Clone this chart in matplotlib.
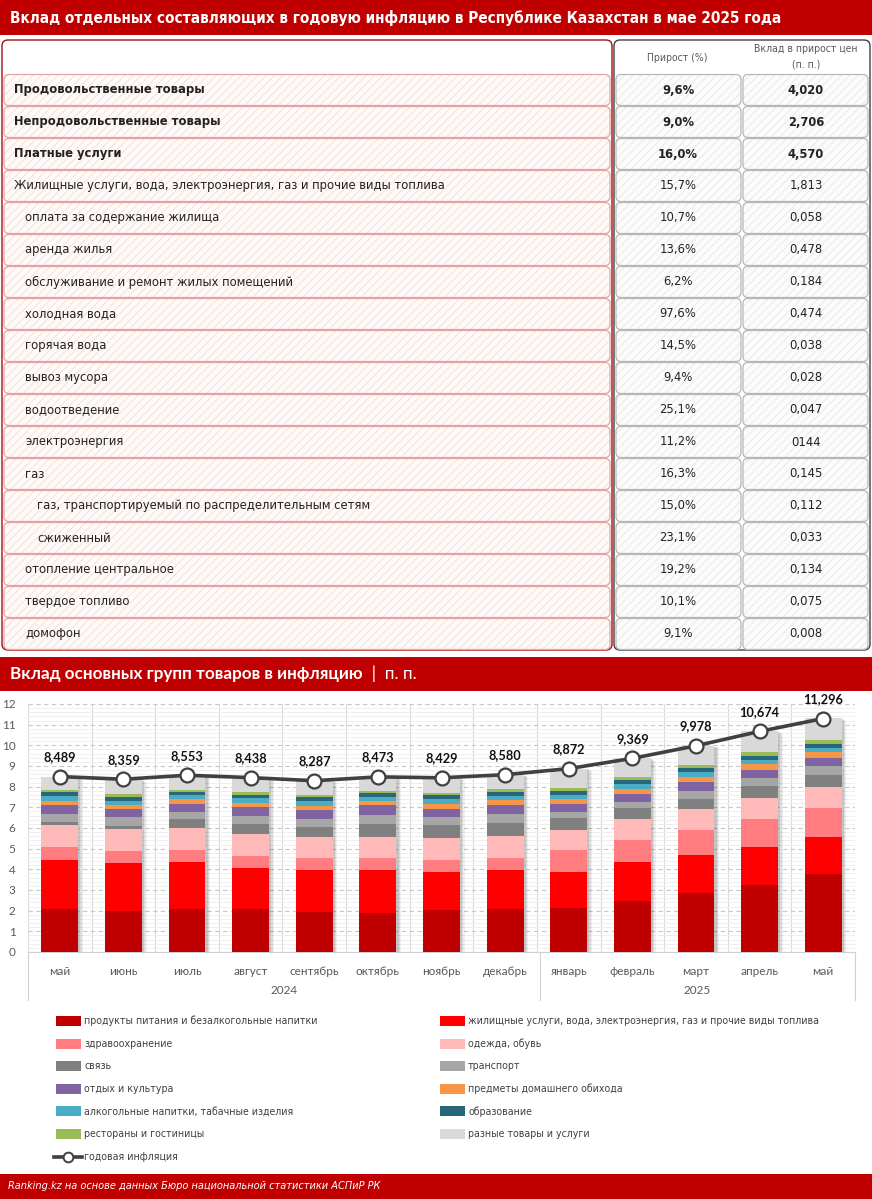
import matplotlib
matplotlib.use("Agg")
import matplotlib.pyplot as plt
from matplotlib.patches import FancyBboxPatch, Rectangle
from matplotlib.lines import Line2D

plt.rcParams['hatch.linewidth'] = 0.6

# --- данные таблицы ---
row_labels = [
    "Продовольственные товары",
    "Непродовольственные товары",
    "Платные услуги",
    "Жилищные услуги, вода, электроэнергия, газ и прочие виды топлива",
    "оплата за содержание жилища",
    "аренда жилья",
    "обслуживание и ремонт жилых помещений",
    "холодная вода",
    "горячая вода",
    "вывоз мусора",
    "водоотведение",
    "электроэнергия",
    "газ",
    "газ, транспортируемый по распределительным сетям",
    "сжиженный",
    "отопление центральное",
    "твердое топливо",
    "домофон",
]
row_level = [0, 0, 0, 0, 1, 1, 1, 1, 1, 1, 1, 1, 1, 2, 2, 1, 1, 1]
row_bold = [True, True, True] + [False] * 15
growth = ["9,6%", "9,0%", "16,0%", "15,7%", "10,7%", "13,6%", "6,2%", "97,6%", "14,5%",
          "9,4%", "25,1%", "11,2%", "16,3%", "15,0%", "23,1%", "19,2%", "10,1%", "9,1%"]
contrib = ["4,020", "2,706", "4,570", "1,813", "0,058", "0,478", "0,184", "0,474", "0,038",
           "0,028", "0,047", "0144", "0,145", "0,112", "0,033", "0,134", "0,075", "0,008"]

# --- данные графика ---
months = ["май", "июнь", "июль", "август", "сентябрь", "октябрь", "ноябрь", "декабрь",
          "январь", "февраль", "март", "апрель", "май"]
years = ["2024", "2025"]
inflation = [8.489, 8.359, 8.553, 8.438, 8.287, 8.473, 8.429, 8.580,
             8.872, 9.369, 9.978, 10.674, 11.296]

food        = [2.09, 2.00, 2.09, 2.09, 1.95, 1.90, 2.05, 2.09, 2.14, 2.48, 2.87, 3.25, 3.79]
housing     = [2.34, 2.33, 2.28, 1.99, 2.03, 2.08, 1.83, 1.89, 1.74, 1.89, 1.83, 1.84, 1.78]
health      = [0.66, 0.57, 0.58, 0.58, 0.58, 0.58, 0.58, 0.58, 1.07, 1.06, 1.21, 1.35, 1.40]
clothing    = [1.06, 1.06, 1.06, 1.06, 1.01, 1.01, 1.07, 1.06, 0.96, 1.01, 1.02, 1.02, 1.02]
communic    = [0.15, 0.14, 0.43, 0.48, 0.49, 0.63, 0.62, 0.63, 0.58, 0.53, 0.48, 0.58, 0.58]
transport   = [0.40, 0.41, 0.34, 0.39, 0.38, 0.44, 0.39, 0.44, 0.29, 0.29, 0.39, 0.38, 0.43]
recreation  = [0.39, 0.43, 0.39, 0.43, 0.45, 0.45, 0.39, 0.43, 0.39, 0.39, 0.43, 0.39, 0.39]
household   = [0.22, 0.18, 0.21, 0.18, 0.18, 0.22, 0.25, 0.24, 0.24, 0.24, 0.24, 0.29, 0.29]
alcohol     = [0.26, 0.21, 0.21, 0.26, 0.24, 0.21, 0.23, 0.21, 0.19, 0.24, 0.24, 0.19, 0.19]
education   = [0.15, 0.18, 0.14, 0.14, 0.20, 0.16, 0.21, 0.18, 0.20, 0.20, 0.20, 0.20, 0.20]
restaurants = [0.11, 0.13, 0.11, 0.13, 0.09, 0.12, 0.08, 0.14, 0.14, 0.14, 0.14, 0.19, 0.19]
misc        = [0.66, 0.72, 0.71, 0.71, 0.69, 0.67, 0.73, 0.69, 0.93, 0.90, 0.93, 0.99, 1.04]

series = [
    ("продукты питания и безалкогольные напитки", food, "#C00000"),
    ("жилищные услуги, вода, электроэнергия, газ и прочие виды топлива", housing, "#FF0000"),
    ("здравоохранение", health, "#FF7C80"),
    ("одежда, обувь", clothing, "#FFB9B9"),
    ("связь", communic, "#808080"),
    ("транспорт", transport, "#A6A6A6"),
    ("отдых и культура", recreation, "#8064A2"),
    ("предметы домашнего обихода", household, "#F79646"),
    ("алкогольные напитки, табачные изделия", alcohol, "#4BACC6"),
    ("образование", education, "#28677A"),
    ("рестораны и гостиницы", restaurants, "#9BBB59"),
    ("разные товары и услуги", misc, "#D9D9D9"),
]

# узкий шрифт (DejaVu Sans Condensed) для таблицы и легенды
NARROW = dict(family="DejaVu Sans", fontstretch="condensed")
CHART = ["Lato", "DejaVu Sans"]
RED = "#C00000"
W, H = 872, 1199

fig = plt.figure(figsize=(W / 100, H / 100), dpi=100)
fig.patch.set_facecolor("white")

# холст в пикселях для таблицы, заголовков, легенды
bg = fig.add_axes([0, 0, 1, 1])
bg.set_xlim(0, W)
bg.set_ylim(H, 0)
bg.axis("off")


def rbox(x, y, w, h, fc, ec, hatch=None, hc=None, lw=1.0, r=5):
    if hatch:
        p = FancyBboxPatch((x, y), w, h, boxstyle="round,pad=0,rounding_size=%d" % r,
                           facecolor=fc, edgecolor=hc, hatch=hatch, linewidth=0)
        bg.add_patch(p)
    p = FancyBboxPatch((x, y), w, h, boxstyle="round,pad=0,rounding_size=%d" % r,
                       facecolor="none" if hatch else fc, edgecolor=ec, linewidth=lw)
    bg.add_patch(p)


# верхний заголовок
bg.add_patch(Rectangle((0, 0), W, 35, color=RED, linewidth=0))
bg.text(10, 18, "Вклад отдельных составляющих в годовую инфляцию в Республике Казахстан в мае 2025 года",
        color="white", fontsize=11, fontweight="bold", va="center", **NARROW)

# рамки таблицы
rbox(2, 40, 610, 610, "white", "#A01010", lw=1.0, r=6)
rbox(614, 40, 256, 610, "white", "#404040", lw=1.0, r=6)
bg.text(677, 58, "Прирост (%)", fontsize=7.5, color="#595959", ha="center", va="center", **NARROW)
bg.text(806, 57, "Вклад в прирост цен\n(п. п.)", fontsize=7.5, color="#595959",
        ha="center", va="center", linespacing=1.7, **NARROW)

indent = [14, 25, 37]
for i, lab in enumerate(row_labels):
    y0 = 74 + 32 * i
    yc = y0 + 16
    rbox(4, y0 + 0.5, 606, 31, "#FFFAFA", "#E6A3A3", hatch="////", hc="#F6DADA", lw=0.9, r=5)
    rbox(616, y0 + 0.5, 125, 31, "#FBFBFB", "#B8B8B8", hatch="////", hc="#E6E6E6", lw=0.9, r=5)
    rbox(743, y0 + 0.5, 125, 31, "#FBFBFB", "#B8B8B8", hatch="////", hc="#E6E6E6", lw=0.9, r=5)
    w = "bold" if row_bold[i] else "normal"
    bg.text(indent[row_level[i]], yc, lab, fontsize=9.3, fontweight=w, color="#222222",
            va="center", **NARROW)
    bg.text(678, yc, growth[i], fontsize=9.3, fontweight=w, color="#222222",
            ha="center", va="center", **NARROW)
    bg.text(806, yc, contrib[i], fontsize=9.3, fontweight=w, color="#222222",
            ha="center", va="center", **NARROW)

# заголовок графика
bg.add_patch(Rectangle((0, 657), W, 34, color=RED, linewidth=0))
t = bg.text(10, 674, "Вклад основных групп товаров в инфляцию", color="white", fontsize=12.3,
            fontweight="bold", family=CHART, va="center")
bg.annotate("  |  п. п.", xycoords=t, xy=(1, 0.5), va="center", color="white",
            fontsize=12.3, family=CHART)

# --- график ---
ax = fig.add_axes([28 / W, 1 - 952 / H, 827 / W, 248 / H])
x = list(range(len(months)))
bw = 0.58

# тени столбиков
for k, (dx, a) in enumerate([(0.035, 0.10), (0.055, 0.08), (0.075, 0.06)]):
    ax.bar([xi + dx for xi in x], [v - 0.04 * (k + 1) for v in inflation], bw, color="black",
           alpha=a, linewidth=0, zorder=2)

bottom = [0.0] * len(months)
for name, vals, col in series:
    ax.bar(x, vals, bw, bottom=bottom, color=col, linewidth=0, zorder=3, label=name)
    bottom = [b + v for b, v in zip(bottom, vals)]

ax.plot(x, inflation, color="#404040", linewidth=2.6, marker="o", markersize=10,
        markerfacecolor="white", markeredgecolor="#404040", markeredgewidth=1.6, zorder=5)
for xi, v in zip(x, inflation):
    ax.annotate(f"{v:.3f}".replace(".", ","), (xi, v), xytext=(0, 14), textcoords="offset points",
                ha="center", va="center", fontsize=9.2, fontweight="bold", color="#111111",
                family=CHART, zorder=6)

ax.set_xlim(-0.5, len(months) - 0.5)
ax.set_ylim(0, 12)
ax.set_yticks(range(0, 13))
ax.set_yticks([i * 0.2 for i in range(61)], minor=True)
ax.grid(axis="y", which="major", color="#C8C8C8", linestyle=(0, (4, 3)), linewidth=0.8, zorder=0)
ax.grid(axis="y", which="minor", color="#EDEDED", linestyle="-", linewidth=0.6, zorder=0)
for b in range(len(months) + 1):
    ax.axvline(b - 0.5, color="#DADADA", linewidth=0.8, zorder=1)
ax.set_xticks(x)
ax.set_xticklabels(months)
ax.tick_params(axis="both", length=0, colors="#595959", labelsize=8.5)
ax.tick_params(axis="x", pad=10)
ax.tick_params(axis="y", pad=9, which="both", length=0)
for lab in ax.get_xticklabels() + ax.get_yticklabels():
    lab.set_family(CHART)
for s in ["top", "right", "left"]:
    ax.spines[s].set_visible(False)
ax.spines["bottom"].set_color("#D0D0D0")

# подписи годов и разделители
for xs in [28, 540, 855]:
    bg.add_line(Line2D([xs, xs], [952, 1000], color="#D0D0D0", linewidth=0.8))
bg.text((28 + 540) / 2, 990, years[0], fontsize=8.5, color="#595959", family=CHART,
        ha="center", va="center")
bg.text((540 + 855) / 2, 990, years[1], fontsize=8.5, color="#595959", family=CHART,
        ha="center", va="center")

# легенда
for i, (name, vals, col) in enumerate(series):
    cx = 56 if i % 2 == 0 else 440
    cy = 1021 + 22.6 * (i // 2)
    bg.add_patch(Rectangle((cx, cy - 5), 25, 10, color=col, linewidth=0))
    bg.text(cx + 28, cy, name, fontsize=7.6, color="#404040", va="center", **NARROW)
cy = 1021 + 22.6 * 6
bg.add_line(Line2D([54, 82], [cy, cy], color="#404040", linewidth=2.6))
bg.add_line(Line2D([68], [cy], marker="o", markersize=7, markerfacecolor="white",
                   markeredgecolor="#404040", markeredgewidth=1.4))
bg.text(84, cy, "годовая инфляция", fontsize=7.6, color="#404040", va="center", **NARROW)

# подвал
bg.add_patch(Rectangle((0, 1174), W, 25, color=RED, linewidth=0))
bg.text(8, 1186, "Ranking.kz на основе данных Бюро национальной статистики АСПиР РК", color="white",
        fontsize=7.8, fontstyle="italic", va="center", **NARROW)

fig.savefig("out.png", dpi=100, facecolor="white")
